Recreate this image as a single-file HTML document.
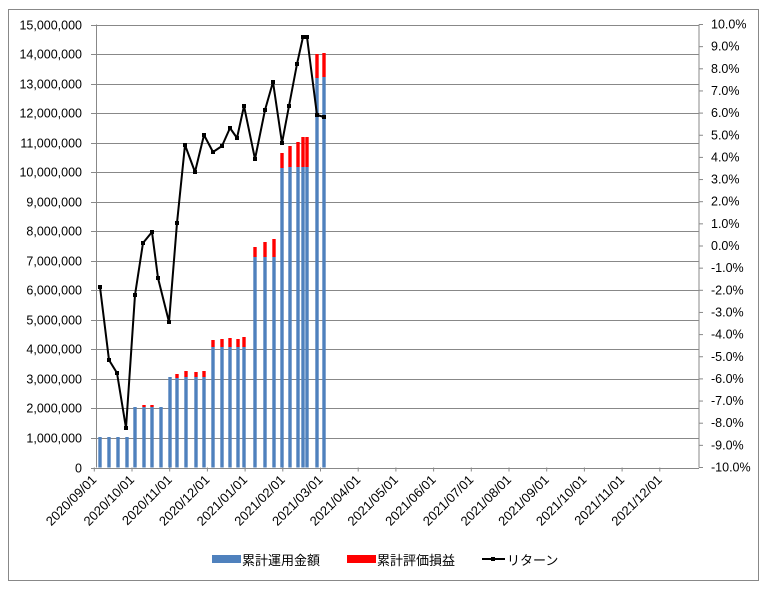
<!DOCTYPE html>
<html><head><meta charset="utf-8"><style>
html,body{margin:0;padding:0;background:#fff;}
svg text{font-family:"Liberation Sans","Noto Sans CJK JP",sans-serif;font-size:12px;fill:#000;}
</style></head><body>
<svg width="767" height="589" viewBox="0 0 767 589" xmlns="http://www.w3.org/2000/svg">
<rect x="8.5" y="9.5" width="750" height="571" fill="#fff" stroke="#888" stroke-width="1"/>
<g id="grid" stroke="#888" stroke-width="1"></g>
<g id="axes"></g>
<g id="bars"></g>
<g id="line"></g>
<g id="legend">
<rect x="212" y="555" width="29" height="8" fill="#4F81BD"/>
<text x="242" y="565" style="font-size:13px">累計運用金額</text>
<rect x="347" y="555" width="29" height="8" fill="#FF0000"/>
<text x="377" y="565" style="font-size:13px">累計評価損益</text>
<line x1="482" y1="559" x2="505" y2="559" stroke="#000" stroke-width="2"/>
<rect x="491" y="557" width="4" height="4" fill="#000"/>
<text x="507" y="565" style="font-size:13px">リターン</text>
</g>
</svg>
<script>
const NS="http://www.w3.org/2000/svg";
function el(t,a,p,txt){const e=document.createElementNS(NS,t);for(const k in a)e.setAttribute(k,a[k]);if(txt!==undefined)e.textContent=txt;document.getElementById(p).appendChild(e);return e;}
const L=96.5,R=699,T=24.5,B=467.5;
const yv=v=>B-(B-T)*v/15e6;
for(let i=0;i<=15;i++){const y=Math.round(yv(i*1e6))+0.5;
 el('line',{x1:91,y1:y,x2:R,y2:y,stroke:'#888'},'grid');
 el('text',{x:82,y:y+4,style:'font-size:12.5px','text-anchor':'end'},'axes',(i*1e6).toLocaleString('en-US'));}
for(let i=0;i<=20;i++){const y=T+(B-T)*i/20;const v=10-i;
 el('line',{x1:R,y1:y,x2:703,y2:y,stroke:'#888'},'grid');
 el('text',{x:711,y:y+4,style:'font-size:12.5px'},'axes',v.toFixed(1)+'%');}
el('line',{x1:L,y1:T,x2:L,y2:B,stroke:'#888'},'grid');
el('line',{x1:R,y1:T,x2:R,y2:B,stroke:'#888'},'grid');
const months=['2020/09/01','2020/10/01','2020/11/01','2020/12/01','2021/01/01','2021/02/01','2021/03/01','2021/04/01','2021/05/01','2021/06/01','2021/07/01','2021/08/01','2021/09/01','2021/10/01','2021/11/01','2021/12/01'];
months.forEach((m,i)=>{const x=94.3+i*37.7;
 el('line',{x1:x,y1:B,x2:x,y2:B+4,stroke:'#888'},'grid');
 el('text',{x:0,y:0,'text-anchor':'end',style:'font-size:13px',transform:`translate(${x+3},${B+13}) rotate(-45)`},'axes',m);});
const bx=[100,109,118,127,135,144,152,161,170,177,186,196,204,213,222,230,238,244,255,265,274,282,290,298,303,307,317,324];
const bt=[437,437,437,437,407,407,407,407,377,378,377,377,377,347,347,347,347,347,257,257,257,168,167,167,167,167,78,77];
const rt=[437,437,437,437,407,405,405,407,377,374,371,372,371,340,339,338,339,337,247,242,239,153,146,142,137,137,54,53];
bx.forEach((x,i)=>{
 el('rect',{x:x-1.7,y:bt[i],width:3.4,height:B-bt[i],fill:'#4F81BD'},'bars');
 if(rt[i]<bt[i])el('rect',{x:x-1.7,y:rt[i],width:3.4,height:bt[i]-rt[i],fill:'#FF0000'},'bars');});
const pts=[[100,287],[109,360],[117,373],[126,428],[135,295],[143,243],[152,232],[158,278],[169,322],[177,223],[185,145],[195,172],[204,135],[213,152],[222,146],[230,128],[237,138],[244,106],[255,159],[265,110],[273,82],[282,143],[289,106],[297,64],[303,37],[307,37],[317,115],[324,117]];
el('polyline',{points:pts.map(p=>p.join(',')).join(' '),fill:'none',stroke:'#000','stroke-width':2,'stroke-linejoin':'round'},'line');
pts.forEach(p=>el('rect',{x:p[0]-2,y:p[1]-2,width:4,height:4,fill:'#000'},'line'));
</script>
</body></html>
